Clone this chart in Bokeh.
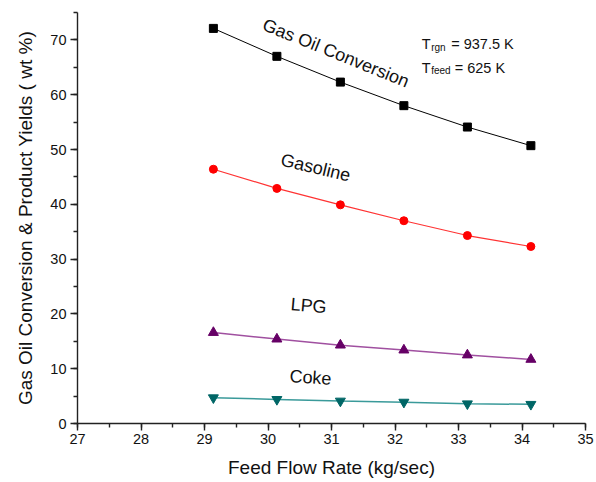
from bokeh.plotting import figure
from bokeh.models import Label, SingleIntervalTicker, Range1d, Title
from bokeh.embed import file_html
from bokeh.resources import INLINE
import math

# Data
feed_rate = [29.14, 30.14, 31.14, 32.14, 33.14, 34.14]
gas_oil_conversion = [72.1, 67.0, 62.3, 58.0, 54.1, 50.7]
gasoline = [46.4, 42.9, 39.9, 37.0, 34.3, 32.3]
lpg = [16.6, 15.4, 14.3, 13.4, 12.5, 11.7]
coke = [4.7, 4.4, 4.1, 3.9, 3.6, 3.5]

FONT = "Liberation Sans"

p = figure(width=596, height=482, output_backend="svg", toolbar_location=None,
           x_range=Range1d(27, 35), y_range=Range1d(0, 75),
           min_border_left=77, min_border_right=11, min_border_top=12, min_border_bottom=59)
p.outline_line_color = None
p.xgrid.grid_line_color = None
p.ygrid.grid_line_color = None
p.background_fill_color = "white"
p.border_fill_color = "white"

p.xaxis.ticker = SingleIntervalTicker(interval=1, num_minor_ticks=2)
p.yaxis.ticker = SingleIntervalTicker(interval=10, num_minor_ticks=2)
for ax in (p.xaxis[0], p.yaxis[0]):
    ax.axis_line_color = "#222222"
    ax.axis_line_width = 1.4
    ax.major_tick_line_color = "#222222"
    ax.minor_tick_line_color = "#222222"
    ax.major_tick_line_width = 1.4
    ax.minor_tick_line_width = 1.4
    ax.major_tick_out = 7
    ax.major_tick_in = 0
    ax.minor_tick_out = 4
    ax.minor_tick_in = 0
    ax.major_label_text_font = FONT
    ax.major_label_text_font_size = "14.5px"
    ax.major_label_text_color = "#111111"
    ax.axis_label_text_font = FONT
    ax.axis_label_text_font_size = "19px"
    ax.axis_label_text_font_style = "normal"
    ax.axis_label_text_color = "#111111"

p.xaxis.axis_label = "Feed Flow Rate (kg/sec)"
p.xaxis.major_label_standoff = 3
p.xaxis.axis_label_standoff = 10
p.yaxis.major_label_standoff = 4

# Y axis title as a side title (lets it sit slightly below the frame centre, like the reference)
p.add_layout(Title(text="Gas Oil Conversion & Product Yields ( wt %)", align="center",
                   offset=10, standoff=24, text_font=FONT, text_font_size="19px",
                   text_font_style="normal", text_color="#111111"), "left")

# Series
p.line(feed_rate, gas_oil_conversion, line_color="black", line_width=1)
p.scatter(feed_rate, gas_oil_conversion, marker="square", size=8, fill_color="black", line_color="black")

p.line(feed_rate, gasoline, line_color="#ff3333", line_width=1.2)
p.scatter(feed_rate, gasoline, marker="circle", size=8, fill_color="#ff0000", line_color="#ff0000")

p.line(feed_rate, lpg, line_color="#a050a0", line_width=1.5)
p.scatter(feed_rate, lpg, marker="triangle", size=10, fill_color="#660066", line_color="#660066")

p.line(feed_rate, coke, line_color="#3a9a9a", line_width=1.5)
p.scatter(feed_rate, coke, marker="inverted_triangle", size=10, fill_color="#006666", line_color="#006666")

# Curve labels
def add_label(x, y, text, deg, size="18px"):
    p.add_layout(Label(x=x, y=y, text=text, angle=math.radians(deg), text_align="center",
                       text_baseline="middle", text_font=FONT, text_font_size=size,
                       text_color="#111111"))

add_label(31.07, 67.6, "Gas Oil Conversion", -22)
add_label(30.75, 46.7, "Gasoline", -13.5)
add_label(30.64, 21.5, "LPG", -5)
add_label(30.67, 8.4, "Coke", -4)

# Condition annotation with subscripts
def add_txt(x, y, text, size):
    p.add_layout(Label(x=x, y=y, text=text, text_align="left", text_baseline="alphabetic",
                       text_font=FONT, text_font_size=size, text_color="#111111"))

add_txt(32.42, 69.23, "T", "14.5px")
add_txt(32.57, 68.7, "rgn", "10px")
add_txt(32.885, 69.23, "= 937.5 K", "14.5px")
add_txt(32.42, 64.96, "T", "14.5px")
add_txt(32.57, 64.45, "feed", "10px")
add_txt(32.94, 64.96, "= 625 K", "14.5px")

open("out.html", "w").write(file_html(p, INLINE))
